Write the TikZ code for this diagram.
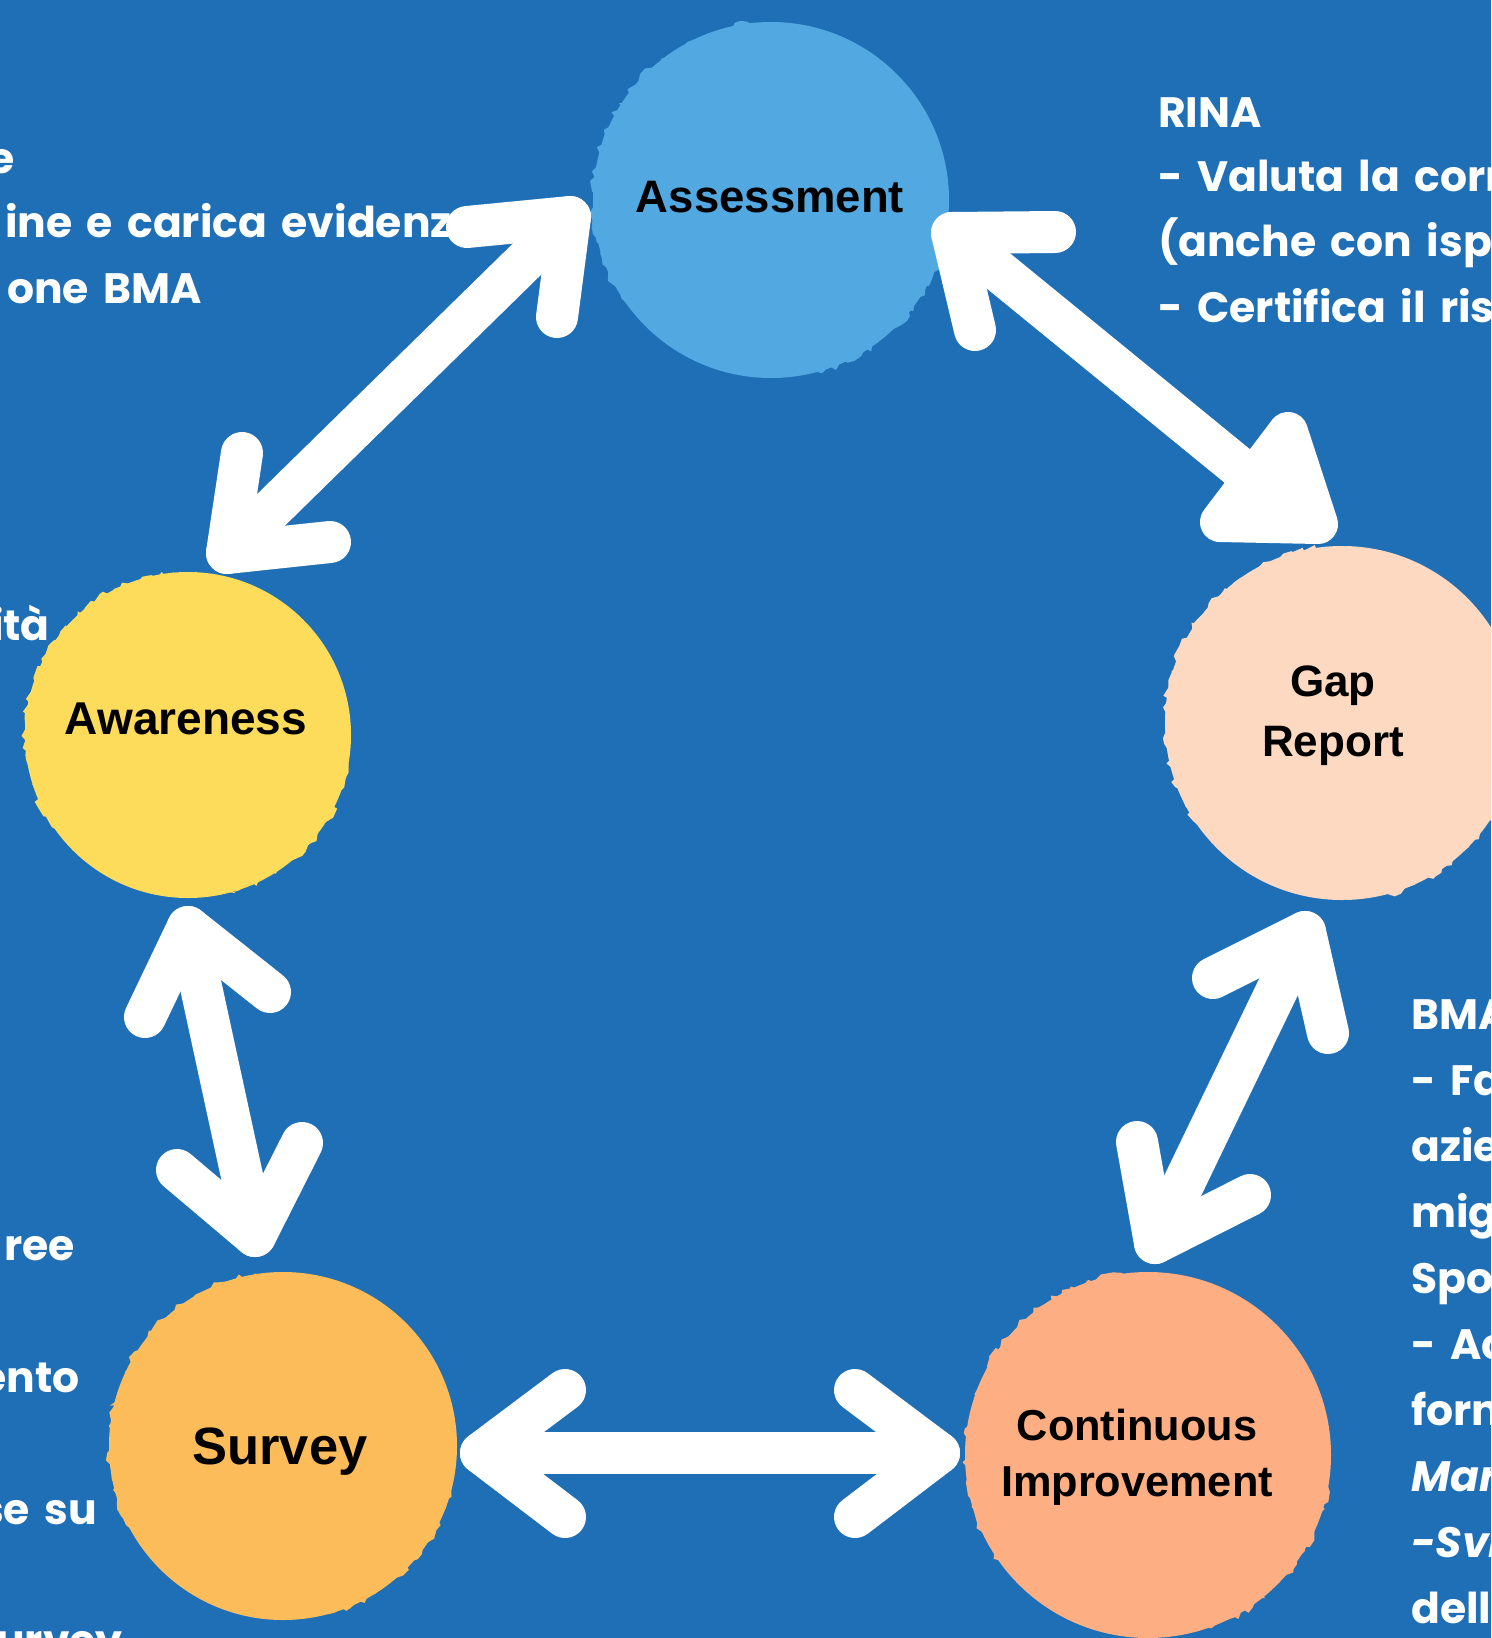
\documentclass[tikz,border=0pt]{standalone}
\usepackage{fontspec}
\setmainfont{Liberation Sans}
\newfontfamily\wfont{Poppins}[WordSpace=1.6]
\usetikzlibrary{decorations.pathmorphing}
\definecolor{bg}{HTML}{1F6FB6}
\definecolor{cAss}{HTML}{52A8E1}
\definecolor{cAwa}{HTML}{FDDC5B}
\definecolor{cGap}{HTML}{FDD9C1}
\definecolor{cSur}{HTML}{FDBC5A}
\definecolor{cCI}{HTML}{FDAE82}
\begin{document}
\begin{tikzpicture}[x=1pt,y=-1pt,
  arr/.style={white, line width=42pt, line cap=round, line join=round},
  headtri/.style={white, fill=white, line width=40pt, line join=round},
  blob/.style={circle, inner sep=0pt, minimum size=#1},
  lab/.style={font=\bfseries\fontsize{44}{60}\selectfont, align=center, text=black, inner sep=0pt},
  wt/.style={font=\wfont\bfseries\fontsize{42.5}{66}\selectfont, text=white, inner sep=0pt},
  rough/.style={decorate, decoration={random steps, segment length=6pt, amplitude=4pt}}
]
\pgfmathsetseed{7}
\useasboundingbox (0,0) rectangle (1491,1638);
\clip (0,0) rectangle (1491,1638);
\fill[bg] (0,0) rectangle (1491,1638);

% ---- side texts (cut by the picture edge)
\node[wt, anchor=base east] (l1) at (15,173) {e};
\node[wt, anchor=base east] (l2) at (452,237) {ine e carica evidenz};
\node[wt, anchor=base east] (l3) at (202,303) {one BMA};
\node[wt, anchor=base east] (l4) at (50,640) {ità};
\node[wt, anchor=base east] (l5) at (75,1260) {ree};
\node[wt, anchor=base east] (l6) at (80,1392) {ento};
\node[wt, anchor=base east] (l7) at (97,1524) {se su};
\node[wt, anchor=base east] (l8) at (123,1655) {urvey};

\node[wt, anchor=base west] (r1) at (1158,127) {RINA};
\node[wt, anchor=base west] (r2) at (1158,191) {- Valuta la corr};
\node[wt, anchor=base west] (r3) at (1158,256) {(anche con ispe};
\node[wt, anchor=base west] (r4) at (1158,322) {- Certifica il ris};

\node[wt, anchor=base west] (b1) at (1411,1029) {BMA};
\node[wt, anchor=base west] (b2) at (1411,1095) {- Fa};
\node[wt, anchor=base west] (b3) at (1411,1161) {azie};
\node[wt, anchor=base west] (b4) at (1411,1227) {mig};
\node[wt, anchor=base west] (b5) at (1411,1293) {Spo};
\node[wt, anchor=base west] (b6) at (1411,1359) {- Ac};
\node[wt, anchor=base west] (b7) at (1411,1425) {forn};
\node[wt, anchor=base west] (b8) at (1411,1491) {\itshape Mar};
\node[wt, anchor=base west] (b9) at (1411,1557) {\itshape -Svi};
\node[wt, anchor=base west] (b10) at (1411,1623) {dell};

% ---- circles
\node[blob=356pt, fill=cAss] (ass) at (771,200) {};
\node[blob=326pt, fill=cAwa] (awa) at (188,735) {};
\node[blob=354pt, fill=cGap] (gap) at (1342,723) {};
\node[blob=348pt, fill=cSur] (sur) at (283,1446) {};
\node[blob=366pt, fill=cCI] (ci) at (1148,1455) {};

\fill[cAss, rough] (ass.center) ++(145:178) arc (145:265:178) -- cycle;
\fill[cAss, rough] (ass.center) ++(10:178) arc (10:75:178) -- cycle;
\fill[cAwa, rough] (awa.center) ++(145:163) arc (145:265:163) -- cycle;
\fill[cAwa, rough] (awa.center) ++(10:163) arc (10:75:163) -- cycle;
\fill[cGap, rough] (gap.center) ++(145:177) arc (145:265:177) -- cycle;
\fill[cGap, rough] (gap.center) ++(10:177) arc (10:75:177) -- cycle;
\fill[cSur, rough] (sur.center) ++(145:174) arc (145:265:174) -- cycle;
\fill[cSur, rough] (sur.center) ++(10:174) arc (10:75:174) -- cycle;
\fill[cCI, rough] (ci.center) ++(145:183) arc (145:265:183) -- cycle;
\fill[cCI, rough] (ci.center) ++(10:183) arc (10:75:183) -- cycle;

% ---- circle labels
\node[lab, font=\bfseries\fontsize{45.5}{56}\selectfont] (assT) at (770,197) {Assessment};
\node[lab, font=\bfseries\fontsize{46}{56}\selectfont] (awaT) at (186,719) {Awareness};
\node[lab] (gapT) at (1333,716) {Gap\\Report};
\node[lab, font=\bfseries\fontsize{52.5}{60}\selectfont] (surT) at (280,1452) {Survey};
\node[lab, font=\bfseries\fontsize{43.3}{56}\selectfont] (ciT) at (1137,1457) {Continuous\\Improvement};

% ---- arrow points
\coordinate (a1t) at (570,217);  \coordinate (a1p) at (467,227); \coordinate (a1q) at (557,317);
\coordinate (a1b) at (227,553);  \coordinate (a1r) at (242,453); \coordinate (a1s) at (330,542);

\coordinate (a2t) at (952,233);  \coordinate (a2p) at (1055,232); \coordinate (a2q) at (975,330);
\coordinate (a2m) at (1252,478);
\coordinate (a2x) at (1288,432); \coordinate (a2y) at (1220,522); \coordinate (a2z) at (1318,524);

\coordinate (a3t) at (188,927);  \coordinate (a3p) at (145,1017); \coordinate (a3q) at (270,992);
\coordinate (a3b) at (255,1236); \coordinate (a3r) at (177,1170); \coordinate (a3s) at (302,1143);

\coordinate (a4l) at (481,1453); \coordinate (a4p) at (565,1390); \coordinate (a4q) at (565,1517);
\coordinate (a4r) at (939,1453); \coordinate (a4u) at (855,1390); \coordinate (a4v) at (855,1517);

\coordinate (a5t) at (1305,932); \coordinate (a5p) at (1213,978); \coordinate (a5q) at (1328,1033);
\coordinate (a5b) at (1155,1243); \coordinate (a5r) at (1137,1142); \coordinate (a5s) at (1250,1195);

% ---- arrows
% Assessment <-> Awareness
\draw[arr] (a1t) -- (a1b);
\draw[arr] (a1p) -- (a1t) -- (a1q);
\draw[arr] (a1r) -- (a1b) -- (a1s);
% Assessment <-> Gap Report
\draw[arr] (a2t) -- (a2m);
\draw[arr] (a2p) -- (a2t) -- (a2q);
\filldraw[headtri] (a2x) -- (a2y) -- (a2z) -- cycle;
% Awareness <-> Survey
\draw[arr] (a3t) -- (a3b);
\draw[arr] (a3p) -- (a3t) -- (a3q);
\draw[arr] (a3r) -- (a3b) -- (a3s);
% Survey <-> Continuous Improvement
\draw[arr] (a4l) -- (a4r);
\draw[arr] (a4p) -- (a4l) -- (a4q);
\draw[arr] (a4u) -- (a4r) -- (a4v);
% Gap Report <-> Continuous Improvement
\draw[arr] (a5t) -- (a5b);
\draw[arr] (a5p) -- (a5t) -- (a5q);
\draw[arr] (a5r) -- (a5b) -- (a5s);
\end{tikzpicture}
\end{document}
